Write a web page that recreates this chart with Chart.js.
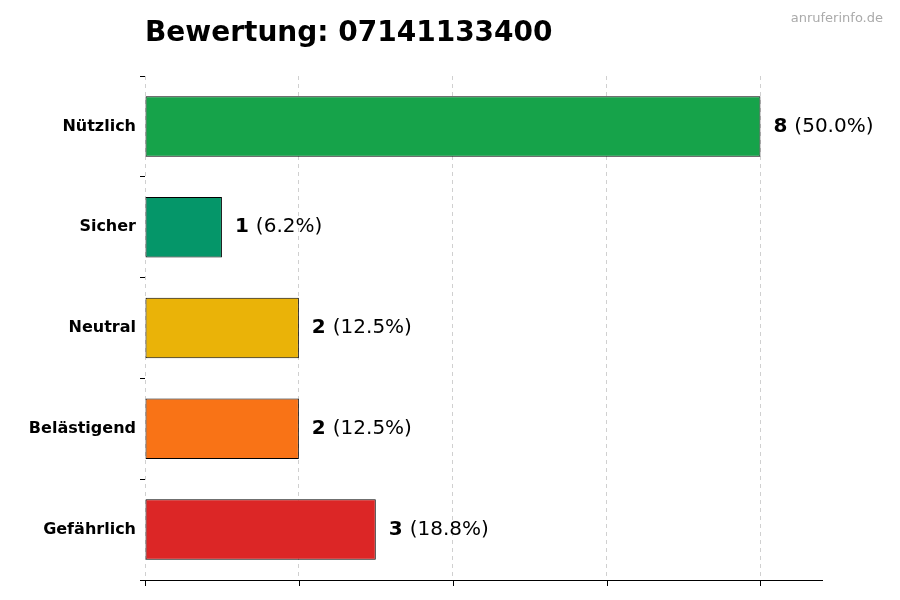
<!DOCTYPE html>
<html><head><meta charset="utf-8">
<script src="https://cdn.jsdelivr.net/npm/chart.js@4"></script>
<style>html,body{margin:0;padding:0;background:#fff}#w{width:900px;height:600px}</style>
</head><body><div id="w"><canvas id="c"></canvas></div>
<script>
const categories = ["Nützlich","Sicher","Neutral","Belästigend","Gefährlich"];
const counts = [8,1,2,2,3];
const percents = ["50.0%","6.2%","12.5%","12.5%","18.8%"];
const colors = ["#16a34a","#059669","#eab308","#f97316","#dc2626"];
const xTicks = [0,2,4,6,8];
const titleText = "Bewertung: 07141133400";
const watermark = "anruferinfo.de";

const deco = {
  id:'deco',
  afterDatasetsDraw(chart){
    const ctx = chart.ctx, x = chart.scales.x, y = chart.scales.y;
    ctx.save();
    ctx.textBaseline='middle';
    chart.getDatasetMeta(0).data.forEach((bar,i)=>{
      let px = bar.x + 13;
      ctx.font = 'bold 20px "DejaVu Sans"'; ctx.fillStyle='#000';
      const n = String(counts[i]);
      ctx.fillText(n, px, bar.y);
      px += ctx.measureText(n).width + 7;
      ctx.font = '20px "DejaVu Sans"';
      ctx.fillText('('+percents[i]+')', px, bar.y);
    });
    ctx.strokeStyle='#000'; ctx.lineWidth=1;
    xTicks.forEach(v=>{const p=Math.round(x.getPixelForValue(v))+0.5;ctx.beginPath();ctx.moveTo(p,chart.chartArea.bottom);ctx.lineTo(p,chart.chartArea.bottom+6);ctx.stroke();});
    ctx.font='bold 28px "DejaVu Sans"'; ctx.textBaseline='alphabetic';
    ctx.fillText(titleText,145,41);
    ctx.font='13px "DejaVu Sans"'; ctx.fillStyle='#aaa'; ctx.textAlign='right';
    ctx.fillText(watermark,883,22);
    ctx.restore();
  }
};

new Chart(document.getElementById('c'),{
  type:'bar',
  data:{labels:categories,datasets:[{data:counts,backgroundColor:colors,borderColor:'#000',borderWidth:1,borderSkipped:false,barPercentage:0.6,categoryPercentage:1}]},
  options:{
    indexAxis:'y',responsive:true,maintainAspectRatio:false,animation:false,
    layout:{padding:{top:76,right:78,bottom:20,left:0}},
    plugins:{legend:{display:false},tooltip:{enabled:false}},
    scales:{
      x:{min:0,max:8.8,afterBuildTicks(s){s.ticks=xTicks.map(v=>({value:v}));},
        ticks:{display:false},afterFit(s){s.height=0;},
        grid:{color:'#d0d0d0',drawTicks:false},border:{display:true,color:'#000',dash:[4,4]}},
      y:{afterFit(s){s.width=145;},
        ticks:{color:'#000',font:{family:'DejaVu Sans',size:16,weight:'bold'},padding:4},
        grid:{drawOnChartArea:false,tickLength:5,color:'#000'},border:{display:false}}
    }
  },
  plugins:[deco]
});
</script></body></html>
